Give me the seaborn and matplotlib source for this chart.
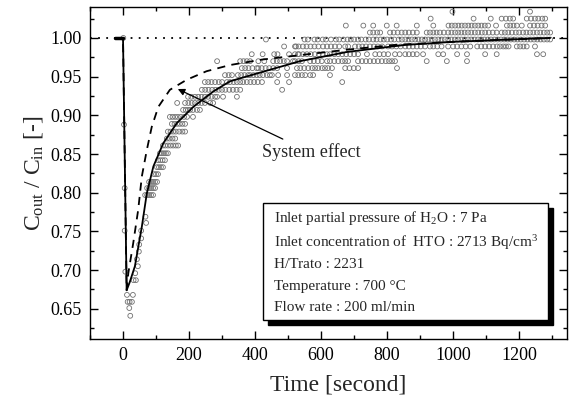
import matplotlib
matplotlib.use("Agg")
import matplotlib.pyplot as plt
import matplotlib.transforms as mtransforms
from matplotlib.patches import Rectangle
from matplotlib.ticker import MultipleLocator
import seaborn as sns
import pandas as pd

# ---------------- data ----------------
levels = [1.034, 1.025, 1.016, 1.007, 0.998, 0.989, 0.979, 0.970, 0.961, 0.952,
          0.943, 0.933, 0.924, 0.916, 0.907, 0.898, 0.889, 0.879, 0.870, 0.861,
          0.851, 0.842, 0.833, 0.824, 0.814, 0.806, 0.797]
level_times = [
    [998, 1233],
    [932, 1062, 1114, 1147, 1160, 1172, 1182, 1223, 1236, 1248, 1258, 1270, 1279],
    [675, 728, 758, 799, 829, 890, 940, 986, 996, 1006, 1016, 1026, 1036, 1046, 1056,
     1066, 1076, 1086, 1096, 1106, 1130, 1163, 1173, 1183, 1193, 1208, 1233, 1245,
     1256, 1268, 1279],
    [748, 758, 770, 779, 809, 820, 832, 844, 855, 866, 878, 890, 920, 930, 940, 950,
     960, 972, 985, 995, 1006, 1015, 1025, 1035, 1045, 1055, 1066, 1076, 1087, 1097,
     1108, 1120, 1132, 1147, 1157, 1167, 1178, 1190, 1200, 1212, 1222, 1233, 1243,
     1254, 1264, 1275, 1285, 1294],
    [433, 550, 560, 580, 590, 605, 615, 630, 645, 655, 668, 680, 690, 700, 712, 722,
     735, 745, 758, 768, 780, 790, 800, 812, 822, 835, 845, 855, 865, 875, 885, 895,
     905, 915, 925, 935, 945, 955, 965, 975, 985, 995, 1005, 1015, 1025, 1035, 1045,
     1055, 1065, 1075, 1085, 1095, 1105, 1115, 1125, 1135, 1145, 1155, 1165, 1175,
     1185, 1195, 1205, 1215, 1225, 1235, 1245, 1255, 1265, 1275, 1285, 1294],
    [488, 524, 521, 532, 545, 556, 568, 580, 592, 606, 618, 630, 642, 655, 673, 682,
     703, 714, 725, 736, 748, 760, 772, 785, 803, 815, 828, 841, 855, 866, 878, 890,
     902, 915, 930, 940, 952, 965, 985, 1000, 1012, 1025, 1038, 1052, 1073, 1085,
     1097, 1109, 1121, 1133, 1142, 1152, 1160, 1168, 1193, 1203, 1213, 1223, 1248],
    [390, 423, 458, 468, 503, 530, 521, 533, 545, 557, 569, 581, 593, 605, 618, 627,
     640, 652, 664, 676, 688, 700, 712, 739, 764, 777, 790, 803, 824, 838, 855, 866,
     878, 890, 909, 955, 970, 1012, 1042, 1097, 1132, 1254, 1273],
    [285, 355, 365, 375, 385, 410, 428, 455, 466, 476, 487, 497, 515, 521, 532, 542,
     567, 578, 590, 602, 618, 627, 640, 652, 664, 673, 682, 712, 724, 736, 748, 760,
     772, 784, 796, 806, 815, 824, 920, 981, 1042],
    [360, 370, 380, 392, 405, 410, 420, 432, 443, 455, 467, 497, 527, 537, 549, 561,
     573, 582, 591, 603, 612, 621, 633, 673, 686, 699, 712, 830],
    [309, 320, 330, 348, 358, 368, 379, 385, 395, 405, 414, 424, 436, 445, 451, 470,
     497, 521, 531, 542, 552, 567, 576, 627],
    [248, 258, 268, 279, 290, 300, 315, 324, 335, 345, 355, 364, 375, 386, 397, 408,
     421, 467, 503, 664],
    [239, 249, 259, 270, 280, 290, 300, 310, 322, 333, 344, 355, 482],
    [197, 207, 218, 228, 238, 248, 258, 268, 279, 285, 303, 345],
    [164, 188, 198, 208, 218, 228, 238, 248, 264, 273],
    [182, 190, 197, 203, 212, 224, 233],
    [142, 150, 158, 166, 175, 185, 194, 212],
    [148, 156, 164, 172, 180, 188],
    [136, 144, 152, 160, 170, 180, 188],
    [133, 141, 150, 158],
    [121, 128, 136, 144, 152, 160, 167],
    [112, 118, 124, 130, 136],
    [106, 113, 120, 127],
    [103, 109, 115, 121],
    [94, 100, 106],
    [79, 85, 91, 97, 103],
    [5, 73, 79, 85, 91, 97],
    [67, 73, 79, 85, 91],
]
extra_t = [68, 70, 5, 55, 55, 49, 48, 42, 45, 7, 37, 32, 39, 12, 30, 14, 20, 27, 19, 22, 3, 1]
extra_v = [0.769, 0.761, 0.751, 0.751, 0.741, 0.733, 0.724, 0.714, 0.705, 0.698, 0.696,
           0.687, 0.687, 0.668, 0.668, 0.659, 0.659, 0.659, 0.651, 0.641, 0.888, 1.000]

solid_t = [-25, 0, 11, 20, 36, 57, 72, 92, 122, 163, 213, 274, 324, 405, 536, 680,
           855, 1000, 1173, 1294]
solid_v = [1.0, 1.0, 0.674, 0.684, 0.705, 0.756, 0.799, 0.834, 0.864, 0.890, 0.911,
           0.931, 0.944, 0.954, 0.970, 0.982, 0.991, 0.995, 0.998, 1.0]

dash_t = [-25, 0, 11, 16, 31, 46, 57, 72, 87, 107, 142, 193, 253, 324, 420, 621, 682,
          824, 1000, 1173, 1294]
dash_v = [1.0, 1.0, 0.674, 0.696, 0.735, 0.778, 0.821, 0.855, 0.885, 0.911, 0.933,
          0.946, 0.957, 0.965, 0.972, 0.982, 0.985, 0.991, 0.995, 0.998, 1.0]

info_lines = [
    "Inlet partial pressure of H$_2$O : 7 Pa",
    "Inlet concentration of  HTO : 2713 Bq/cm$^3$",
    "H/Trato : 2231",
    "Temperature : 700 \u00b0C",
    "Flow rate : 200 ml/min",
]
info_y = [0.767, 0.735, 0.707, 0.679, 0.652]

xticks = [0, 200, 400, 600, 800, 1000, 1200]
yticks = [0.65, 0.70, 0.75, 0.80, 0.85, 0.90, 0.95, 1.00]

# ---------------- build frames ----------------
pt_t, pt_v = [], []
for lv, ts in zip(levels, level_times):
    pt_t.extend(ts)
    pt_v.extend([lv] * len(ts))
pt_t.extend(extra_t)
pt_v.extend(extra_v)
pts = pd.DataFrame({"t": pt_t, "v": pt_v})
solid = pd.DataFrame({"t": solid_t, "v": solid_v})
dash = pd.DataFrame({"t": dash_t, "v": dash_v})

# ---------------- style ----------------
sns.set_style("ticks")
plt.rcParams["font.family"] = ["Liberation Serif", "DejaVu Serif"]
plt.rcParams["mathtext.fontset"] = "custom"
plt.rcParams["mathtext.rm"] = "Liberation Serif"
plt.rcParams["mathtext.it"] = "Liberation Serif:italic"
plt.rcParams["mathtext.default"] = "regular"

fig = plt.figure(figsize=(5.69, 3.98), dpi=100)
ax = fig.add_axes([90 / 569, 1 - 339 / 398, 477 / 569, 332 / 398])

ax.axhline(1.0, color="black", lw=1.3, ls=(0, (1, 3.5)), zorder=1)

sns.scatterplot(data=pts, x="t", y="v", ax=ax, marker="o", s=12,
                facecolors="none", edgecolor="#707070", linewidth=0.6, zorder=2,
                legend=False)
sns.lineplot(data=dash, x="t", y="v", ax=ax, color="black", lw=1.3,
             linestyle=(0, (4.5, 3.5)), sort=False, estimator=None, zorder=3)
sns.lineplot(data=solid, x="t", y="v", ax=ax, color="black", lw=1.3,
             sort=False, estimator=None, zorder=4)
ax.plot([-25, 0], [1.0, 1.0], color="black", lw=2.5, zorder=4)

ax.set_xlim(-100, 1345)
ax.set_ylim(0.611, 1.04)
ax.set_xticks(xticks)
ax.set_yticks(yticks)
ax.set_yticklabels([f"{y:.2f}" for y in yticks])
ax.xaxis.set_minor_locator(MultipleLocator(100))
ax.yaxis.set_minor_locator(MultipleLocator(0.025))
ax.tick_params(which="both", direction="in", top=True, right=True, width=1.0,
               labelsize=13, colors="black")
ax.tick_params(which="major", length=6)
ax.tick_params(which="minor", length=3)
ax.tick_params(axis="x", pad=6)
ax.tick_params(axis="y", pad=6)
for sp in ax.spines.values():
    sp.set_linewidth(1.0)
    sp.set_color("black")

ax.set_xlabel("Time [second]", fontsize=17, labelpad=3)
ax.xaxis.set_label_coords(0.52, -0.108)
ax.set_ylabel("C$_{out}$ / C$_{in}$ [-]", fontsize=17, labelpad=4)

ax.annotate("System effect", xy=(166, 0.934), xytext=(420, 0.852),
            fontsize=13, va="center", ha="left",
            arrowprops=dict(arrowstyle="-|>", color="black", lw=0.9,
                            shrinkA=2, shrinkB=0, mutation_scale=10))

# info box with shadow
shadow_tr = mtransforms.offset_copy(ax.transData, fig=fig, x=5, y=-5, units="dots")
ax.add_patch(Rectangle((424, 0.636), 864, 0.151, transform=shadow_tr,
                       facecolor="black", edgecolor="black", zorder=5))
ax.add_patch(Rectangle((424, 0.636), 864, 0.151, facecolor="white",
                       edgecolor="black", lw=1.0, zorder=6))
for txt, yy in zip(info_lines, info_y):
    ax.text(458, yy, txt, fontsize=11, va="center", ha="left", zorder=7)

fig.savefig("out.png", dpi=100)
